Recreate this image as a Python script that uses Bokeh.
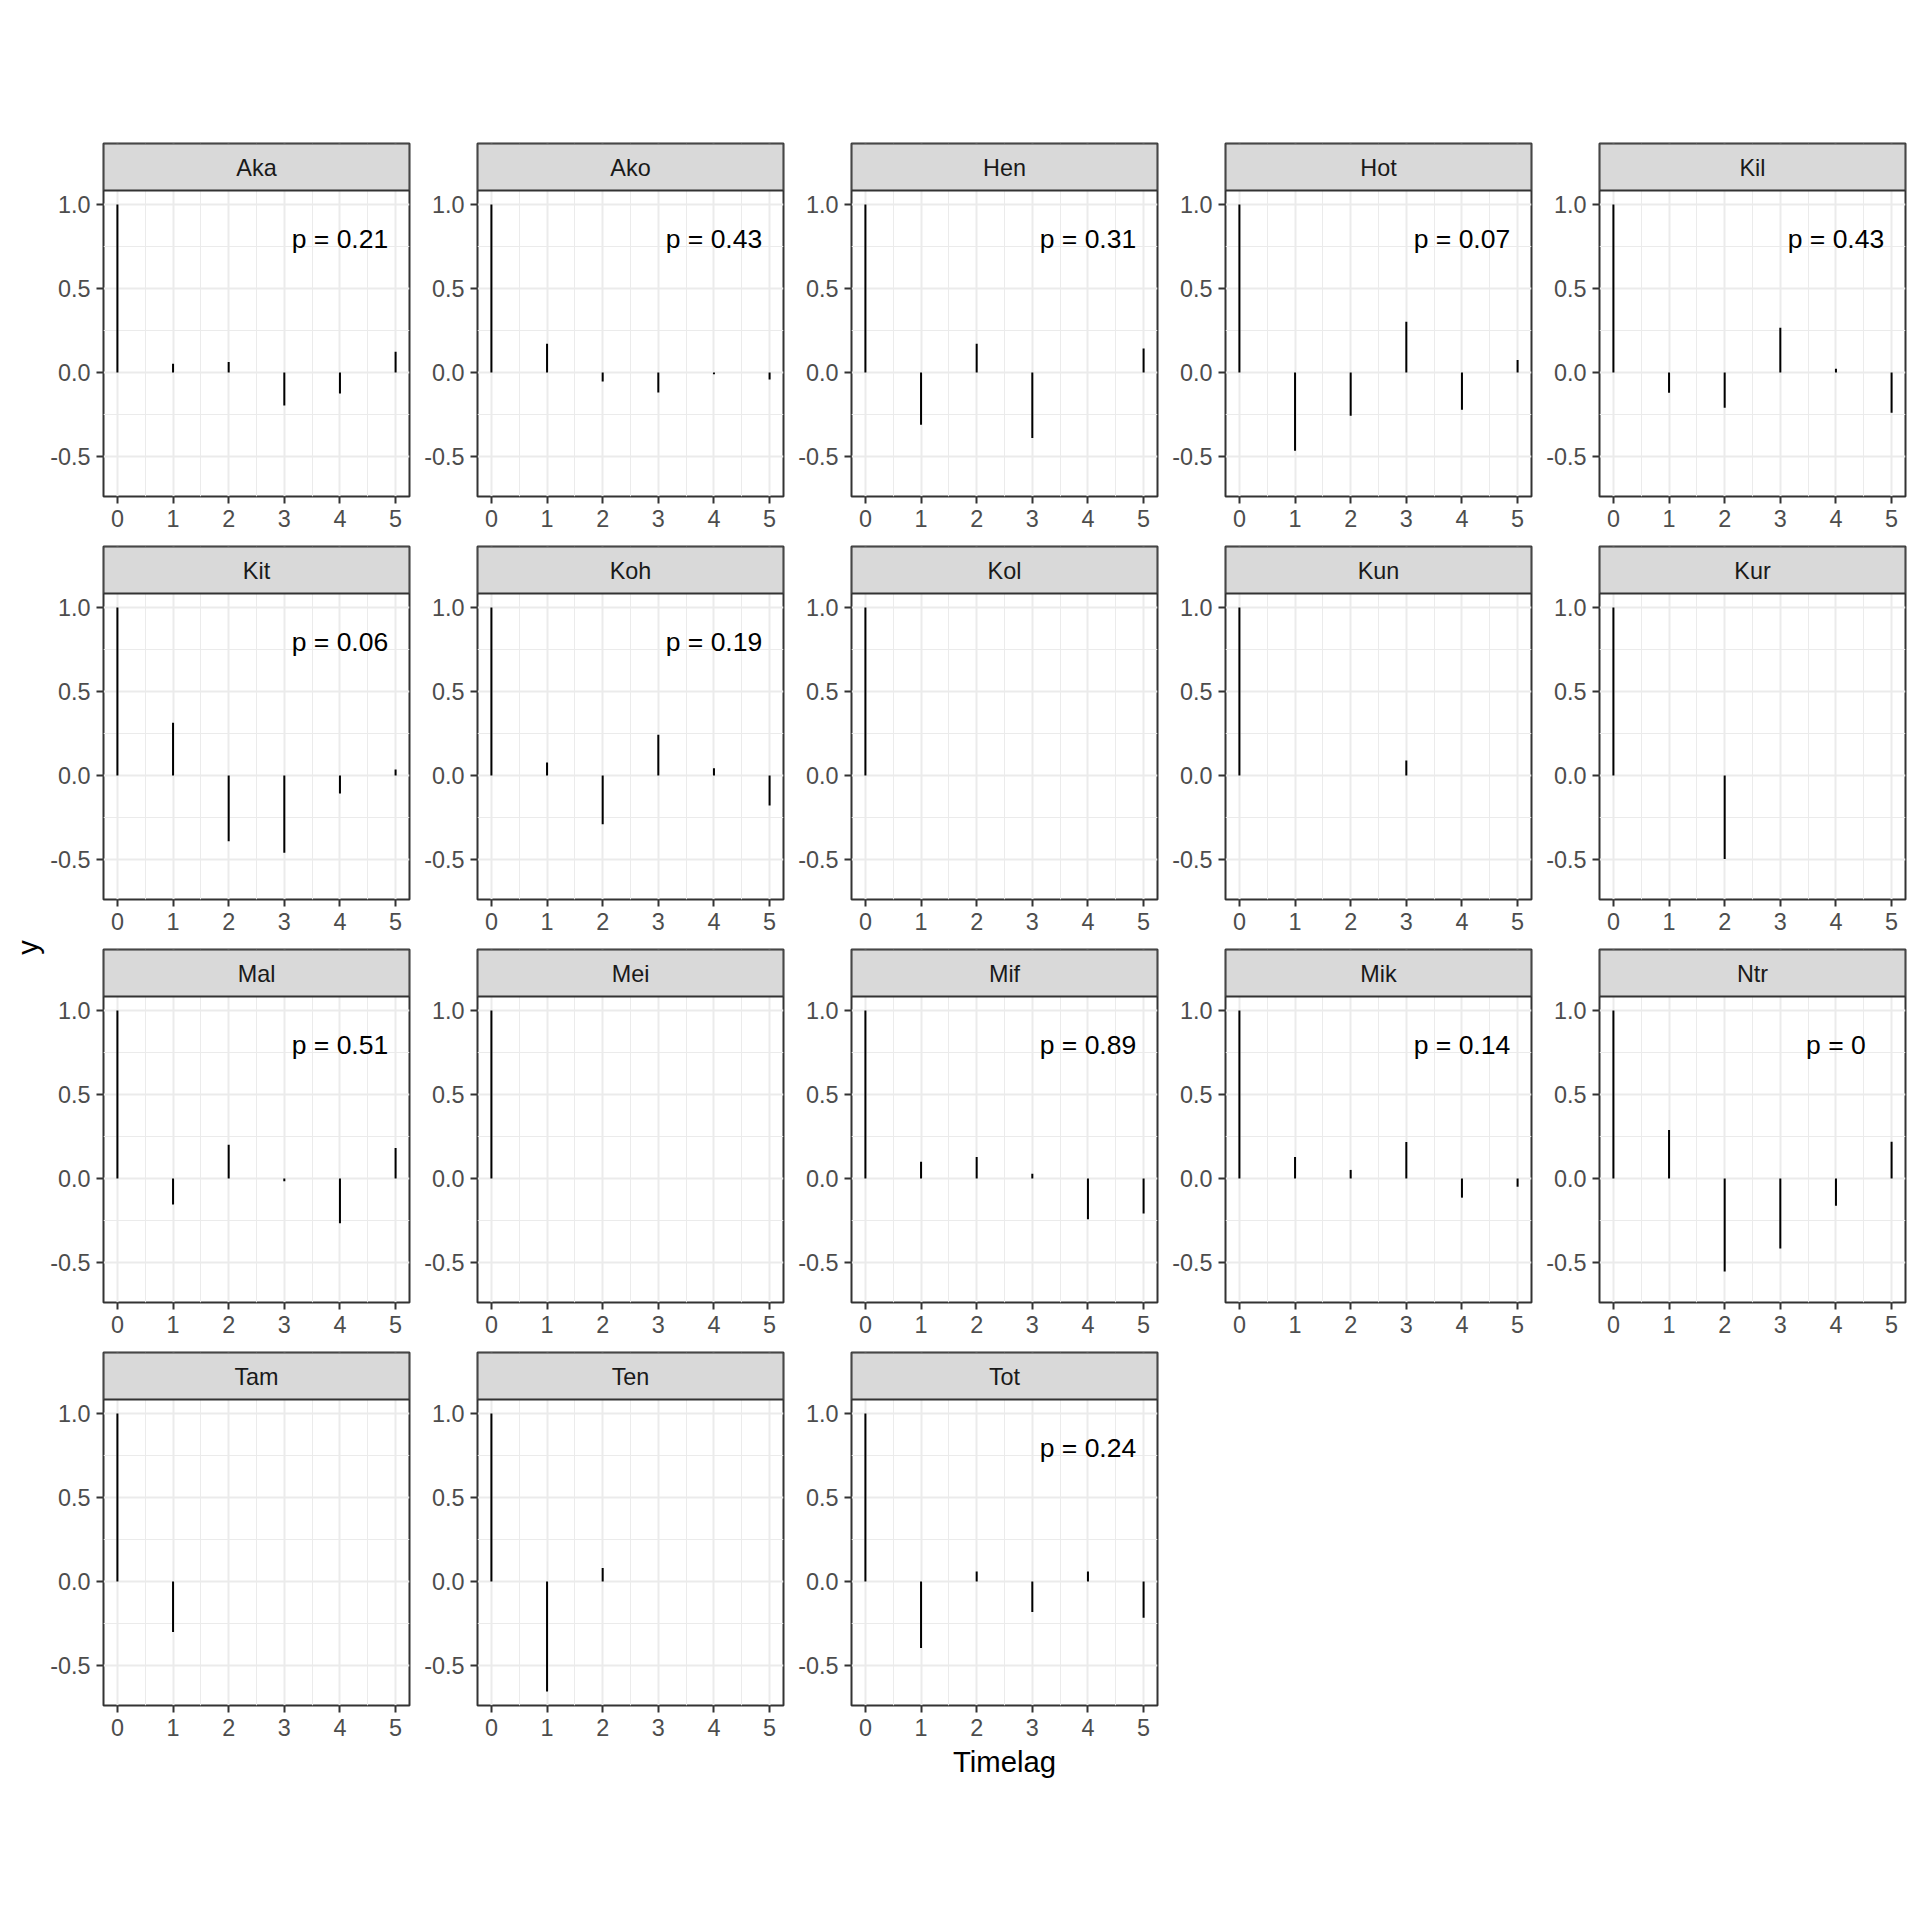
from bokeh.plotting import figure
from bokeh.models import Range1d, FixedTicker, PrintfTickFormatter, GridPlot, ColumnDataSource
from bokeh.core.properties import value
from bokeh.embed import file_html
from bokeh.resources import INLINE

NAN = float("nan")

# ---------------- data ----------------
panels = ["Aka", "Ako", "Hen", "Hot", "Kil",
          "Kit", "Koh", "Kol", "Kun", "Kur",
          "Mal", "Mei", "Mif", "Mik", "Ntr",
          "Tam", "Ten", "Tot"]
lags = [0, 1, 2, 3, 4, 5]

acf_aka = [1.0, 0.052, 0.063, -0.196, -0.125, 0.123]
acf_ako = [1.0, 0.171, -0.054, -0.119, -0.010, -0.042]
acf_hen = [1.0, -0.311, 0.171, -0.390, NAN, 0.143]
acf_hot = [1.0, -0.466, -0.258, 0.302, -0.222, 0.075]
acf_kil = [1.0, -0.121, -0.210, 0.266, 0.022, -0.240]
acf_kit = [1.0, 0.314, -0.391, -0.460, -0.107, 0.036]
acf_koh = [1.0, 0.077, -0.290, 0.243, 0.043, -0.178]
acf_kol = [1.0, NAN, NAN, NAN, NAN, NAN]
acf_kun = [1.0, NAN, NAN, 0.089, NAN, NAN]
acf_kur = [1.0, NAN, -0.497, NAN, NAN, NAN]
acf_mal = [1.0, -0.154, 0.201, -0.016, -0.266, 0.181]
acf_mei = [1.0, NAN, NAN, NAN, NAN, NAN]
acf_mif = [1.0, 0.099, 0.128, 0.028, -0.243, -0.209]
acf_mik = [1.0, 0.128, 0.051, 0.217, -0.114, -0.049]
acf_ntr = [1.0, 0.289, -0.554, -0.416, -0.162, 0.218]
acf_tam = [1.0, -0.300, NAN, NAN, NAN, NAN]
acf_ten = [1.0, -0.655, 0.081, NAN, NAN, NAN]
acf_tot = [1.0, -0.395, 0.060, -0.181, 0.060, -0.216]

acf_by_panel = [acf_aka, acf_ako, acf_hen, acf_hot, acf_kil,
                acf_kit, acf_koh, acf_kol, acf_kun, acf_kur,
                acf_mal, acf_mei, acf_mif, acf_mik, acf_ntr,
                acf_tam, acf_ten, acf_tot]

p_labels = ["0.21", "0.43", "0.31", "0.07", "0.43",
            "0.06", "0.19", None, None, None,
            "0.51", None, "0.89", "0.14", "0",
            None, None, "0.24"]

y_ticks = [-0.5, 0.0, 0.5, 1.0]
x_title = "Timelag"
y_title = "y"

# ---------------- layout / style constants ----------------
NCOL = 5
FRAME_W = 306
PANEL_H = 306
STRIP_H = 47
P_X, P_Y = 4, 0.8          # position of the p-value annotation (data units)
FONT = "Liberation Sans"
TICK_FS = "23.4px"
STRIP_FS = "23.4px"
PTXT_FS = "26.5px"
TITLE_FS = "29.3px"
GRID_COL = "#EBEBEB"
BORDER_COL = "#333333"

# ggplot-like scale ranges (5% expansion)
all_vals = [v for vals in acf_by_panel for v in vals if v == v]
y_min, y_max = min(all_vals), max(all_vals)
y_lo = y_min - 0.05 * (y_max - y_min)
y_hi = y_max + 0.05 * (y_max - y_min)
y_top = y_hi + (y_hi - y_lo) * STRIP_H / PANEL_H   # strip sits above the panel
x_lo = min(lags) - 0.05 * (max(lags) - min(lags))
x_hi = max(lags) + 0.05 * (max(lags) - min(lags))

x_minor = [l + 0.5 for l in lags[:-1]]
y_minor = [t + 0.25 for t in y_ticks[:-1]]

nrows = (len(panels) + NCOL - 1) // NCOL
title_panel = (nrows - 1) * NCOL + NCOL // 2   # middle panel of last row


def make_panel(i):
    name = panels[i]
    vals = acf_by_panel[i]
    r, c = divmod(i, NCOL)
    p = figure(frame_width=FRAME_W, frame_height=PANEL_H + STRIP_H,
               min_border_left=57 if c == 0 else 66, min_border_right=2,
               min_border_top=143 if r == 0 else 2,
               min_border_bottom=90 if r == nrows - 1 else 48,
               x_range=Range1d(x_lo, x_hi), y_range=Range1d(y_lo, y_top),
               output_backend="svg", toolbar_location=None, tools="")
    p.background_fill_color = "white"
    p.border_fill_color = "white"
    p.outline_line_color = BORDER_COL
    p.outline_line_width = 2

    for ax in (p.xaxis[0], p.yaxis[0]):
        ax.axis_line_color = None
        ax.major_tick_line_color = BORDER_COL
        ax.major_tick_line_width = 2
        ax.major_tick_out = 7
        ax.major_tick_in = 0
        ax.minor_tick_line_color = None
        ax.major_label_text_font = FONT
        ax.major_label_text_font_size = TICK_FS
        ax.major_label_text_color = "#4D4D4D"
    p.xaxis.major_label_standoff = 6
    p.yaxis.major_label_standoff = 6
    p.xaxis.ticker = FixedTicker(ticks=lags, minor_ticks=x_minor)
    p.yaxis.ticker = FixedTicker(ticks=y_ticks, minor_ticks=y_minor)
    p.yaxis.formatter = PrintfTickFormatter(format="%.1f")

    for g in (p.xgrid[0], p.ygrid[0]):
        g.grid_line_color = GRID_COL
        g.grid_line_width = 2
        g.minor_grid_line_color = GRID_COL
        g.minor_grid_line_width = 1

    src = ColumnDataSource(dict(
        lag=[l for l, v in zip(lags, vals) if v == v],
        acf=[v for v in vals if v == v]))
    p.segment(x0="lag", y0=0, x1="lag", y1="acf", source=src,
              line_color="black", line_width=2)

    if p_labels[i] is not None:
        p.text(x=[P_X], y=[P_Y], text=["p = " + p_labels[i]],
               text_font=value(FONT), text_font_size=PTXT_FS,
               text_color="black", text_align="center", text_baseline="middle",
               y_offset=1)

    # facet strip
    p.quad(left=[x_lo], right=[x_hi], bottom=[y_hi], top=[y_top],
           fill_color="#D9D9D9", line_color=BORDER_COL, line_width=2)
    p.text(x=[(x_lo + x_hi) / 2], y=[(y_hi + y_top) / 2], text=[name],
           text_font=value(FONT), text_font_size=STRIP_FS,
           text_color="#1A1A1A", text_align="center", text_baseline="middle",
           y_offset=1)

    if i == title_panel:
        p.xaxis.axis_label = x_title
        p.xaxis.axis_label_text_font = FONT
        p.xaxis.axis_label_text_font_size = TITLE_FS
        p.xaxis.axis_label_text_font_style = "normal"
        p.xaxis.axis_label_text_color = "black"
        p.xaxis.axis_label_standoff = 6
    return p


figs = [make_panel(i) for i in range(len(panels))]

row_heights = []
for r in range(nrows):
    row_heights.append((143 if r == 0 else 2) + PANEL_H + STRIP_H + (90 if r == nrows - 1 else 48))
total_h = sum(row_heights)

ylab = figure(frame_width=3, frame_height=total_h - 143 - 44,
              min_border_left=43, min_border_right=0, min_border_top=143, min_border_bottom=44,
              x_range=Range1d(0, 1), y_range=Range1d(0, 1),
              output_backend="svg", toolbar_location=None, tools="")
ylab.xaxis.visible = False
ylab.grid.visible = False
ylab.outline_line_color = None
ylab.background_fill_color = "white"
ylab.border_fill_color = "white"
ya = ylab.yaxis[0]
ya.ticker = FixedTicker(ticks=[])
ya.axis_line_color = None
ya.major_tick_line_color = None
ya.minor_tick_line_color = None
ya.major_tick_out = 0
ya.major_label_standoff = 0
ya.axis_label = y_title
ya.axis_label_standoff = 0
ya.axis_label_text_font = FONT
ya.axis_label_text_font_size = TITLE_FS
ya.axis_label_text_font_style = "normal"
ya.axis_label_text_color = "black"

children = [(ylab, 0, 0, nrows, 1)]
for i, f in enumerate(figs):
    r, c = divmod(i, NCOL)
    children.append((f, r, c + 1))

grid = GridPlot(children=children, toolbar_location=None, spacing=0)

open("out.html", "w").write(file_html(grid, INLINE))
